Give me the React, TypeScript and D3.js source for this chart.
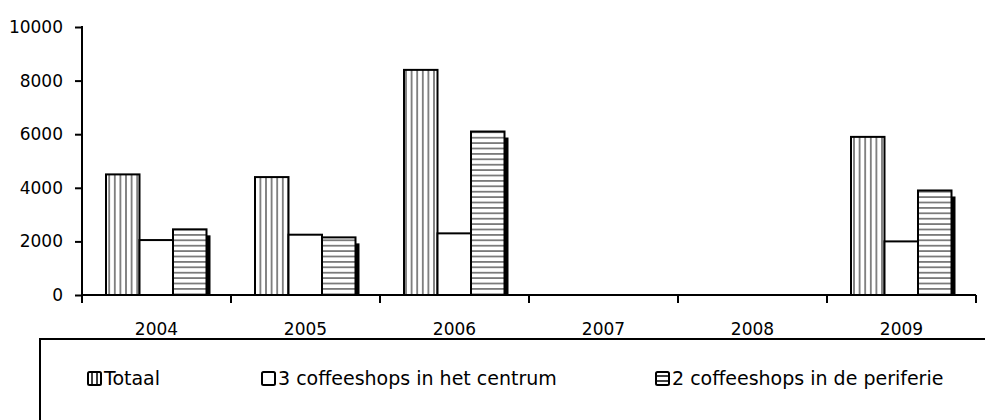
import React, { useRef, useEffect } from "react";
import { select, scaleBand, scaleLinear, axisLeft, format } from "d3";

const years = ["2004", "2005", "2006", "2007", "2008", "2009"];
const seriesNames = ["Totaal", "3 coffeeshops in het centrum", "2 coffeeshops in de periferie"];
const totaal = [4500, 4400, 8400, null, null, 5900];
const centrum = [2050, 2250, 2300, null, null, 2000];
const periferie = [2450, 2150, 6100, null, null, 3900];
const yTicks = [0, 2000, 4000, 6000, 8000, 10000];

const FONT = "DejaVu Sans";

const App = () => {
  const svgRef = useRef(null);

  useEffect(() => {
    const svg = select(svgRef.current);
    svg.selectAll("*").remove();

    const x = scaleBand().domain(years).range([82, 976]);
    const xs = scaleBand().domain(seriesNames).range([24, 24 + 3 * 33.5]);
    const y = scaleLinear().domain([0, 10000]).range([295, 27]);

    const defs = svg.append("defs");
    const pv = defs
      .append("pattern")
      .attr("id", "vert")
      .attr("patternUnits", "userSpaceOnUse")
      .attr("width", 5.6)
      .attr("height", 10);
    pv.append("rect").attr("width", 5.6).attr("height", 10).attr("fill", "#fff");
    pv.append("line")
      .attr("x1", 2.8)
      .attr("x2", 2.8)
      .attr("y1", 0)
      .attr("y2", 10)
      .attr("stroke", "#111")
      .attr("stroke-width", 1);
    const ph = defs
      .append("pattern")
      .attr("id", "horiz")
      .attr("patternUnits", "userSpaceOnUse")
      .attr("width", 10)
      .attr("height", 5.4);
    ph.append("rect").attr("width", 10).attr("height", 5.4).attr("fill", "#fff");
    ph.append("line")
      .attr("x1", 0)
      .attr("x2", 10)
      .attr("y1", 2.7)
      .attr("y2", 2.7)
      .attr("stroke", "#111")
      .attr("stroke-width", 1);

    const fills = ["url(#vert)", "#fff", "url(#horiz)"];
    const allSeries = [totaal, centrum, periferie];

    // y axis
    const yAxis = axisLeft(y)
      .tickValues(yTicks)
      .tickFormat(format("d"))
      .tickSize(7)
      .tickSizeOuter(0)
      .tickPadding(12);
    const gy = svg.append("g").attr("transform", "translate(82,0)").call(yAxis);
    gy.select(".domain").remove();
    gy.selectAll("line").attr("stroke", "#000").attr("stroke-width", 2);
    gy.selectAll("text")
      .attr("font-family", FONT)
      .attr("font-size", 17)
      .attr("fill", "#000");
    svg
      .append("line")
      .attr("x1", 82)
      .attr("x2", 82)
      .attr("y1", y(10000) - 1)
      .attr("y2", 303)
      .attr("stroke", "#000")
      .attr("stroke-width", 2);

    // bars
    allSeries.forEach((vals, si) => {
      const name = seriesNames[si];
      years.forEach((yr, i) => {
        const v = vals[i];
        if (v == null) return;
        const bx = x(yr) + xs(name);
        const bw = xs.bandwidth();
        if (si === 2) {
          svg
            .append("rect")
            .attr("x", bx + 4)
            .attr("y", y(v) + 6)
            .attr("width", bw)
            .attr("height", y(0) - y(v) - 6)
            .attr("fill", "#000");
        }
        svg
          .append("rect")
          .attr("x", bx)
          .attr("y", y(v))
          .attr("width", bw)
          .attr("height", y(0) - y(v))
          .attr("fill", fills[si])
          .attr("stroke", "#000")
          .attr("stroke-width", 2);
      });
    });

    // x axis
    svg
      .append("line")
      .attr("x1", 82)
      .attr("x2", 976)
      .attr("y1", 295)
      .attr("y2", 295)
      .attr("stroke", "#000")
      .attr("stroke-width", 2);
    const bounds = years.map((d) => x(d)).concat([x.range()[1]]);
    svg
      .selectAll(".xtick")
      .data(bounds)
      .join("line")
      .attr("x1", (d) => d)
      .attr("x2", (d) => d)
      .attr("y1", 295)
      .attr("y2", 303)
      .attr("stroke", "#000")
      .attr("stroke-width", 2);
    svg
      .selectAll(".xlabel")
      .data(years)
      .join("text")
      .attr("x", (d) => x(d) + x.bandwidth() / 2)
      .attr("y", 335)
      .attr("text-anchor", "middle")
      .attr("font-family", FONT)
      .attr("font-size", 17)
      .text((d) => d);

    // legend
    svg
      .append("rect")
      .attr("x", 40)
      .attr("y", 339)
      .attr("width", 960)
      .attr("height", 100)
      .attr("fill", "none")
      .attr("stroke", "#000")
      .attr("stroke-width", 2);
    const legendX = [87, 261, 655];
    seriesNames.forEach((name, i) => {
      const g = svg.append("g").attr("transform", `translate(${legendX[i]},371)`);
      g.append("rect")
        .attr("x", 1)
        .attr("y", 1)
        .attr("width", 13)
        .attr("height", 13)
        .attr("rx", 1.5)
        .attr("fill", "#fff")
        .attr("stroke", "#000")
        .attr("stroke-width", 2);
      if (i === 0) {
        [5, 10].forEach((lx) =>
          g.append("line").attr("x1", lx).attr("x2", lx).attr("y1", 1).attr("y2", 14).attr("stroke", "#000").attr("stroke-width", 1.5)
        );
      }
      if (i === 2) {
        [5, 10].forEach((ly) =>
          g.append("line").attr("x1", 1).attr("x2", 14).attr("y1", ly).attr("y2", ly).attr("stroke", "#000").attr("stroke-width", 1.5)
        );
      }
      g.append("text")
        .attr("x", 17)
        .attr("y", 14)
        .attr("font-family", FONT)
        .attr("font-size", 19)
        .text(name);
    });
  }, []);

  return (
    <svg
      ref={svgRef}
      width={985}
      height={420}
      style={{ position: "absolute", left: 0, top: 0, background: "#fff" }}
    />
  );
};

export default App;
